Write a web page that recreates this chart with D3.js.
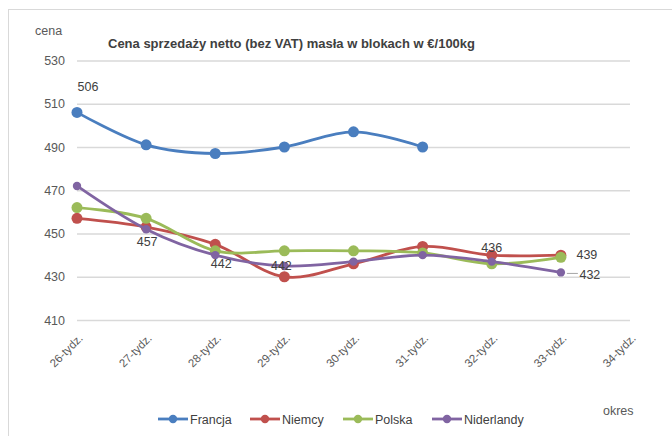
<!DOCTYPE html>
<html>
<head>
<meta charset="utf-8">
<script src="https://cdn.jsdelivr.net/npm/d3@7"></script>
<style>
  body { margin: 0; background: #fff; }
  text { font-family: "Liberation Sans", Arial, sans-serif; }
</style>
</head>
<body>
<script>
// weeks on x axis
const weeks = ['26-tydz.', '27-tydz.', '28-tydz.', '29-tydz.', '30-tydz.', '31-tydz.', '32-tydz.', '33-tydz.', '34-tydz.']
const yTicks = [410, 430, 450, 470, 490, 510, 530]

// prices per country (null = no data)
const francja = [506, 491, 487, 490, 497, 490, null, null, null]
const niemcy = [457, 453, 445, 430, 436, 444, 440, 440, null]
const polska = [462, 457, 442, 442, 442, 441, 436, 439, null]
const niderlandy = [472, 452, 440, 435, 437, 440, 437, 432, null]

const seriesNames = ['Francja', 'Niemcy', 'Polska', 'Niderlandy']
const seriesValues = [francja, niemcy, polska, niderlandy]
const seriesColors = ['#4a7ebf', '#c0504d', '#9bbb59', '#8064a2']
const markerR = [5.5, 5.5, 5.5, 4.2]

// which points carry a data label: [series index, week index]
const labelled = [[0, 0], [2, 1], [2, 2], [2, 3], [2, 6], [2, 7], [3, 7]]
// label offsets from the point (layout only)
const labelOffsets = [[11, -26], [1, 23], [6, 13], [-3, 15], [0, -16], [26, -3], [29, 2]]

const W = 672, H = 436

const svg = d3.select('body').append('svg')
  .attr('width', W)
  .attr('height', H)

svg.append('rect')
  .attr('x', 8.5).attr('y', 9.5)
  .attr('width', 700).attr('height', 500)
  .attr('fill', '#fff')
  .attr('stroke', '#d9d9d9')

const x = d3.scalePoint().domain(weeks).range([77, 630])
const y = d3.scaleLinear().domain([410, 530]).range([320, 60.5])

// gridlines + y labels
const yAxis = d3.axisLeft(y).tickValues(yTicks).tickSize(-(630 - 77)).tickPadding(12)
const gy = svg.append('g').attr('transform', 'translate(77,0)').call(yAxis)
gy.select('.domain').remove()
gy.selectAll('.tick line').attr('stroke', '#d9d9d9').attr('stroke-width', 1.3)
gy.selectAll('.tick text')
  .attr('fill', '#595959')
  .style('font-size', '12.5px')

// x labels (rotated)
const xAxis = d3.axisBottom(x).tickSize(0).tickPadding(0)
const gx = svg.append('g').attr('transform', 'translate(0,320)').call(xAxis)
gx.select('.domain').remove()
gx.selectAll('.tick text')
  .attr('fill', '#595959')
  .style('font-size', '11.5px')
  .attr('text-anchor', 'end')
  .attr('dy', null)
  .attr('y', 0)
  .attr('transform', 'translate(6,19) rotate(-45)')

// series lines
const line = d3.line()
  .defined(d => d != null)
  .x((d, i) => x(weeks[i]))
  .y(d => y(d))
  .curve(d3.curveCardinal.tension(0))

seriesValues.forEach(function(vals, s) {
  const g = svg.append('g')
  g.append('path')
    .attr('d', line(vals))
    .attr('fill', 'none')
    .attr('stroke', seriesColors[s])
    .attr('stroke-width', 2.8)
  g.selectAll('circle')
    .data(vals.map((v, i) => ({ v: v, i: i })).filter(d => d.v != null))
    .enter()
    .append('circle')
    .attr('cx', d => x(weeks[d.i]))
    .attr('cy', d => y(d.v))
    .attr('r', markerR[s])
    .attr('fill', seriesColors[s])
})

// data labels
labelled.forEach(function(p, k) {
  const v = seriesValues[p[0]][p[1]]
  const px = x(weeks[p[1]]), py = y(v)
  const off = labelOffsets[k]
  if (p[0] === 3) {
    // leader line for the last Niderlandy label
    svg.append('line')
      .attr('x1', px + 6).attr('x2', px + off[0] - 12)
      .attr('y1', py + 1).attr('y2', py + 1)
      .attr('stroke', '#a6a6a6')
  }
  svg.append('text')
    .attr('x', px + off[0])
    .attr('y', py + off[1] + 4.5)
    .attr('text-anchor', 'middle')
    .attr('fill', '#404040')
    .style('font-size', '12.5px')
    .text(v)
})

// title and axis names
svg.append('text')
  .attr('x', 108).attr('y', 48)
  .attr('fill', '#404040')
  .style('font-size', '12.5px')
  .style('font-weight', 'bold')
  .attr('textLength', 367)
  .attr('lengthAdjust', 'spacingAndGlyphs')
  .text('Cena sprzedaży netto (bez VAT) masła w blokach w €/100kg')

svg.append('text')
  .attr('x', 35).attr('y', 35)
  .attr('fill', '#595959')
  .style('font-size', '12.5px')
  .text('cena')

svg.append('text')
  .attr('x', 603).attr('y', 415)
  .attr('fill', '#595959')
  .style('font-size', '12.5px')
  .text('okres')

// legend
const legendX = [158, 250, 343, 432]
seriesNames.forEach(function(name, s) {
  const lg = svg.append('g').attr('transform', 'translate(' + legendX[s] + ',419)')
  lg.append('line')
    .attr('x1', 0).attr('x2', 30)
    .attr('stroke', seriesColors[s])
    .attr('stroke-width', 2.8)
  lg.append('circle')
    .attr('cx', 15).attr('r', 4.2)
    .attr('fill', seriesColors[s])
  lg.append('text')
    .attr('x', 32).attr('y', 4.5)
    .attr('fill', '#404040')
    .style('font-size', '12.5px')
    .text(name)
})
</script>
</body>
</html>
